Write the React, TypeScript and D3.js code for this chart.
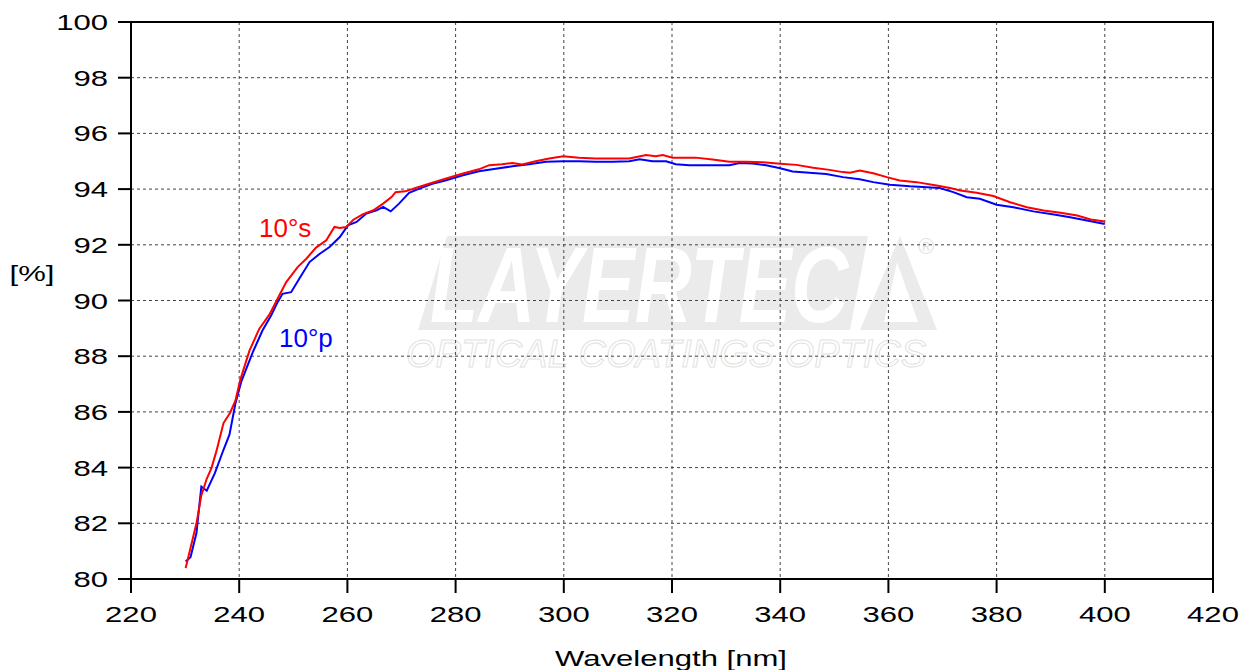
import React from "react";
import * as d3 from "d3";

const sWave = [230.1,232.1,233.0,234.0,234.9,235.8,237.1,238.3,239.3,240.2,241.9,243.7,245.6,247.4,248.7,250.8,252.4,254.2,256.1,257.6,258.6,259.8,261.1,262.9,264.8,266.6,268.2,268.9,270.7,272.6,275.1,278.1,281.2,284.3,286.2,288.6,290.5,292.3,294.8,297.3,299.9,302.8,305.9,309.0,312.1,315.2,317.0,318.3,320.1,324.4,327.5,330.6,333.7,336.8,340.0,343.0,346.1,349.1,351.6,352.9,354.7,357.2,359.7,362.1,365.2,368.9,371.4,373.3,376.3,379.4,382.5,385.6,388.7,391.8,394.9,397.4,400.0];
const sVal = [80.39,82.0,83.0,83.6,84.0,84.6,85.6,85.96,86.4,87.15,88.2,88.98,89.5,90.18,90.66,91.2,91.5,91.9,92.16,92.64,92.6,92.64,92.9,93.1,93.24,93.48,93.72,93.89,93.92,94.04,94.19,94.37,94.55,94.71,94.86,94.89,94.94,94.88,95.0,95.1,95.18,95.13,95.1,95.1,95.1,95.22,95.18,95.22,95.13,95.13,95.06,94.98,94.98,94.96,94.91,94.87,94.77,94.69,94.61,94.59,94.67,94.57,94.43,94.31,94.25,94.13,94.04,93.95,93.87,93.75,93.53,93.35,93.23,93.15,93.05,92.91,92.84];

const pWave = [230.1,231.0,232.1,233.0,234.0,235.5,237.1,238.2,239.3,240.4,242.5,244.3,245.9,247.1,248.0,249.6,251.1,253.0,254.9,256.7,258.6,260.1,261.7,263.5,265.4,266.6,268.0,269.5,271.4,273.2,275.7,278.1,281.2,284.3,287.4,290.5,293.6,296.7,299.9,302.8,305.9,309.0,312.1,314.0,316.4,318.9,320.7,323.2,327.5,330.6,332.5,334.9,337.4,340.0,342.3,345.4,348.5,351.6,354.7,357.2,360.3,364.0,369.5,372.0,374.5,376.9,380.0,383.1,386.8,390.6,393.6,396.7,400.0];
const pVal = [80.63,80.78,81.65,83.32,83.17,83.8,84.64,85.18,86.3,87.1,88.14,88.92,89.46,89.94,90.24,90.3,90.78,91.38,91.68,91.92,92.28,92.7,92.82,93.12,93.24,93.36,93.2,93.47,93.87,94.01,94.19,94.31,94.49,94.64,94.73,94.82,94.89,94.98,95.0,95.0,94.98,94.98,95.0,95.07,95.0,95.0,94.89,94.86,94.86,94.86,94.94,94.92,94.86,94.75,94.63,94.59,94.54,94.43,94.35,94.25,94.16,94.1,94.04,93.89,93.71,93.65,93.44,93.35,93.2,93.09,92.99,92.87,92.75];

const xTicks = [220,240,260,280,300,320,340,360,380,400,420];
const yTicks = [80,82,84,86,88,90,92,94,96,98,100];

const W = 1249, H = 670;
const L = 131, R = 1213, T = 22, B = 579;
const FONT = "'Liberation Sans', Arial, sans-serif";

export default function App() {
  const x = d3.scaleLinear().domain([220, 420]).range([L, R]);
  const y = d3.scaleLinear().domain([80, 100]).range([B, T]);
  const line = d3.line<[number, number]>().x(d => x(d[0])).y(d => y(d[1]));
  const sPts = sWave.map((w, i) => [w, sVal[i]] as [number, number]);
  const pPts = pWave.map((w, i) => [w, pVal[i]] as [number, number]);
  const sx = 1.38;
  return (
    <svg width={W} height={H} style={{ position: "absolute", left: 0, top: 0, background: "#fff" }} fontFamily={FONT}>
      {/* watermark */}
      <g>
        <polygon points="447,236 868,236 850,330 418,330" fill="#ebebeb" />
        <polygon points="900,236 937,330 860,330" fill="#ebebeb" />
        <polygon points="897,262 918,322 884,322" fill="#ffffff" />
        <text transform="translate(430,322) scale(1,1.35)" fontSize={79} fontWeight="bold" fontStyle="italic" fill="#ffffff">LAYERTEC</text>
        <text x={926} y={254} fontSize={22} textAnchor="middle" fill="#e3e3e3">®</text>
        <text x={406} y={367} fontSize={38} fontStyle="italic" fill="none" stroke="#e2e2e2" strokeWidth={1}>OPTICAL COATINGS  OPTICS</text>
      </g>
      {/* grid */}
      <g stroke="#444" strokeWidth={1} strokeDasharray="3,3">
        {xTicks.slice(1, -1).map(t => (
          <line key={"gx" + t} x1={x(t)} x2={x(t)} y1={T} y2={B} />
        ))}
        {yTicks.slice(1, -1).map(t => (
          <line key={"gy" + t} x1={L} x2={R} y1={y(t)} y2={y(t)} />
        ))}
      </g>
      {/* curves */}
      <path d={line(pPts) || ""} fill="none" stroke="#0000ff" strokeWidth={2} />
      <path d={line(sPts) || ""} fill="none" stroke="#ff0000" strokeWidth={2} />
      {/* frame */}
      <rect x={L} y={T} width={R - L} height={B - T} fill="none" stroke="#000" strokeWidth={2} />
      {/* ticks */}
      <g stroke="#000" strokeWidth={2}>
        {yTicks.map(t => (
          <line key={"ty" + t} x1={L - 13} x2={L} y1={y(t)} y2={y(t)} />
        ))}
        {xTicks.map(t => (
          <line key={"tx" + t} x1={x(t)} x2={x(t)} y1={B} y2={B + 14} />
        ))}
      </g>
      <g fontSize={22.5} fill="#000">
        {yTicks.map(t => (
          <text key={"ly" + t} transform={`translate(${L - 23},${y(t) + 8}) scale(${sx},1)`} textAnchor="end">{t}</text>
        ))}
        {xTicks.map(t => (
          <text key={"lx" + t} transform={`translate(${x(t)},${622}) scale(${sx},1)`} textAnchor="middle">{t}</text>
        ))}
        <text transform={`translate(32,281) scale(${sx},1)`} textAnchor="middle">[%]</text>
        <text transform={`translate(671,666) scale(${sx},1)`} textAnchor="middle">Wavelength [nm]</text>
      </g>
      <text x={259} y={237} fontSize={26} fill="#ff0000">10°s</text>
      <text x={279} y={347} fontSize={26} fill="#0000ff">10°p</text>
    </svg>
  );
}
